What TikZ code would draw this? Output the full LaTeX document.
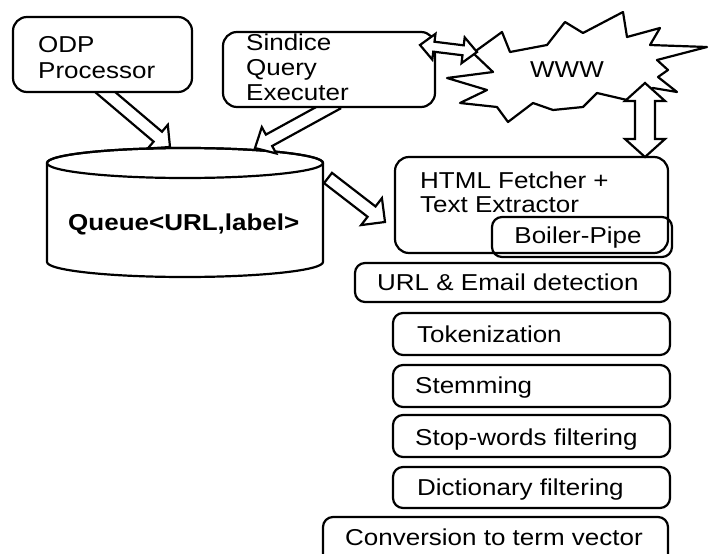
\documentclass[tikz,border=0pt]{standalone}
\usepackage{fontspec}
\setmainfont[FakeStretch=1.13]{Liberation Sans}
\usetikzlibrary{calc,fit}
\tikzset{
  box/.style={draw, line width=2.2pt, rounded corners=10pt, inner sep=0pt, fill=white},
  bigbox/.style={box, rounded corners=14pt},
  lbl/.style={anchor=base west, inner sep=0pt, font=\fontsize{23}{27}\selectfont},
  arrowline/.style={draw, line width=2.2pt, fill=white, line join=miter},
  burst/.style={draw, line width=2.2pt, fill=white, line join=round},
}
% single hollow block arrow: #1 start, #2 tip, #3 shaft half width, #4 head half width, #5 head length
\newcommand\blockarr[5]{%
  \path ($(#2)!#5!(#1)$) coordinate (ba-h);
  \draw[arrowline] ($(#1)!#3!90:(#2)$) -- ($(ba-h)!#3!90:(#2)$) -- ($(ba-h)!#4!90:(#2)$) -- (#2)
     -- ($(ba-h)!#4!-90:(#2)$) -- ($(ba-h)!#3!-90:(#2)$) -- ($(#1)!#3!-90:(#2)$) -- cycle;}
% double hollow block arrow
\newcommand\dblarr[5]{%
  \path ($(#2)!#5!(#1)$) coordinate (bb-h) ($(#1)!#5!(#2)$) coordinate (bb-a);
  \draw[arrowline] (#1) -- ($(bb-a)!#4!90:(#2)$) -- ($(bb-a)!#3!90:(#2)$) -- ($(bb-h)!#3!90:(#2)$)
     -- ($(bb-h)!#4!90:(#2)$) -- (#2) -- ($(bb-h)!#4!-90:(#2)$) -- ($(bb-h)!#3!-90:(#2)$)
     -- ($(bb-a)!#3!-90:(#2)$) -- ($(bb-a)!#4!-90:(#2)$) -- cycle;}
\begin{document}
\begin{tikzpicture}[x=1pt,y=-1pt]
\useasboundingbox (0,0) rectangle (712,554);

% WWW starburst
\draw[burst] (473,53) -- (502,32) -- (510,52) -- (547,45) -- (565,22) -- (583,33) -- (623,12)
  -- (627,37) -- (660,28) -- (650,45) -- (707,47) -- (657,60) -- (668,70) -- (658,77)
  -- (677,92) -- (653,88) -- (627,100) -- (597,93) -- (583,107) -- (553,110) -- (533,103)
  -- (508,122) -- (497,107) -- (460,103) -- (487,90) -- (447,78) -- (493,72) -- cycle;
\node[lbl] (www) at (530,77) {WWW};

% cylinder
\node[inner sep=0pt, minimum width=276pt, minimum height=129pt] (queue) at (185,212.5) {};
\draw[line width=2.2pt, fill=white] (47,163) -- (47,262)
  arc[start angle=180, end angle=360, x radius=138pt, y radius=15pt] -- (323,163)
  arc[start angle=0, end angle=180, x radius=138pt, y radius=15pt] -- cycle;
\draw[line width=2.2pt] (185,163) ellipse[x radius=138pt, y radius=15pt];
\node[lbl, font=\fontsize{23}{27}\selectfont\bfseries] (queuetxt) at (68,230) {Queue<URL,label>};

% arrow endpoints
\coordinate (odpS) at (98,86);
\coordinate (qA) at (170,147);
\coordinate (sinS) at (337,103);
\coordinate (qB) at (255,148);
\coordinate (qC) at (328,178);
\coordinate (htmlW) at (385,222);
\coordinate (sinE) at (420,45);
\coordinate (wwwW) at (477,52);
\coordinate (wwwS) at (645,83);
\coordinate (htmlN) at (645,157);

\blockarr{odpS}{qA}{6.5pt}{15.5pt}{16pt}
\blockarr{sinS}{qB}{6.5pt}{15pt}{16pt}
\blockarr{qC}{htmlW}{6.5pt}{17pt}{17pt}

% boxes
\node[bigbox, fit={(13,17) (192,92)}] (odp) {};
\node[lbl] (odp1) at (38,52) {ODP};
\node[lbl] (odp2) at (38,78) {Processor};

\node[bigbox, fit={(223,32) (435,107)}] (sin) {};
\node[lbl] (sin1) at (246,50) {Sindice};
\node[lbl] (sin2) at (246,75) {Query};
\node[lbl] (sin3) at (246,100) {Executer};

\node[bigbox, fit={(395,157) (668,253)}] (html) {};
\node[lbl] (html1) at (420,188) {HTML Fetcher +};
\node[lbl] (html2) at (420,212) {Text Extractor};

\node[box, fill=none, fit={(492,217) (672,257)}] (boiler) {};
\node[lbl, anchor=base] (boilert) at (578,243) {Boiler-Pipe};

\node[box, fit={(355,263) (670,302)}] (url) {};
\node[lbl] (urlt) at (377,290) {URL \& Email detection};

\node[box, fit={(393,313) (670,355)}] (tok) {};
\node[lbl] (tokt) at (417,342) {Tokenization};

\node[box, fit={(393,365) (670,407)}] (stem) {};
\node[lbl] (stemt) at (415,393) {Stemming};

\node[box, fit={(393,415) (670,457)}] (stop) {};
\node[lbl] (stopt) at (415,445) {Stop-words filtering};

\node[box, fit={(393,467) (670,508)}] (dict) {};
\node[lbl] (dictt) at (417,495) {Dictionary filtering};

\node[box, fit={(323,517) (668,566)}] (conv) {};
\node[lbl] (convt) at (345,545) {Conversion to term vector};

% double arrows
\dblarr{sinE}{wwwW}{5pt}{13pt}{14pt}
\dblarr{wwwS}{htmlN}{10pt}{20pt}{18pt}
\end{tikzpicture}
\end{document}
